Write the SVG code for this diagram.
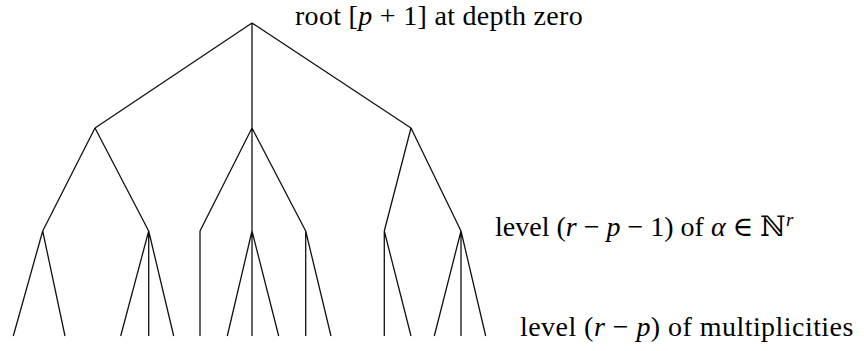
<svg xmlns="http://www.w3.org/2000/svg" width="864" height="351" viewBox="0 0 864 351">
<style>
.e{stroke:#111;stroke-width:1.3;fill:none;stroke-linecap:butt}
.t{font-family:"Liberation Serif","DejaVu Serif",serif;font-size:28px;fill:#000}
.m{font-style:italic}
</style>
<rect width="864" height="351" fill="#fff"/>
<g id="connectors">
<path class="e" d="M252,23L95,128M252,23L252,128M252,23L411,128"/>
<path class="e" d="M95,128L42.7,231M95,128L148.7,231M252,128L200,231M252,128L252,231M252,128L305.7,231M411,128L384.3,231M411,128L461,231"/>
<path class="e" d="M42.7,231L13.3,336M42.7,231L65,336M148.7,231L120.7,336M148.7,231L148.7,336M148.7,231L173.7,336M200,231L200,336M252,231L227.3,336M252,231L252,336M252,231L278.7,336M305.7,231L305.7,336M305.7,231L331,336M384.3,231L384.3,336M384.3,231L411,336M461,231L434.3,336M461,231L461,336M461,231L485.7,336"/>
</g>
<g id="root-label"><text class="t" x="295" y="25" letter-spacing="0.3">root [<tspan class="m">p</tspan> + 1] at depth zero</text></g>
<g id="level1-label"><text class="t" x="495" y="236">level (<tspan class="m">r</tspan> − <tspan class="m">p</tspan> − 1) of <tspan class="m">α</tspan> ∈ ℕ<tspan font-size="19" dy="-10" class="m">r</tspan></text></g>
<g id="level2-label"><text class="t" x="520" y="336" letter-spacing="0.45">level (<tspan class="m">r</tspan> − <tspan class="m">p</tspan>) of multiplicities</text></g>
</svg>
